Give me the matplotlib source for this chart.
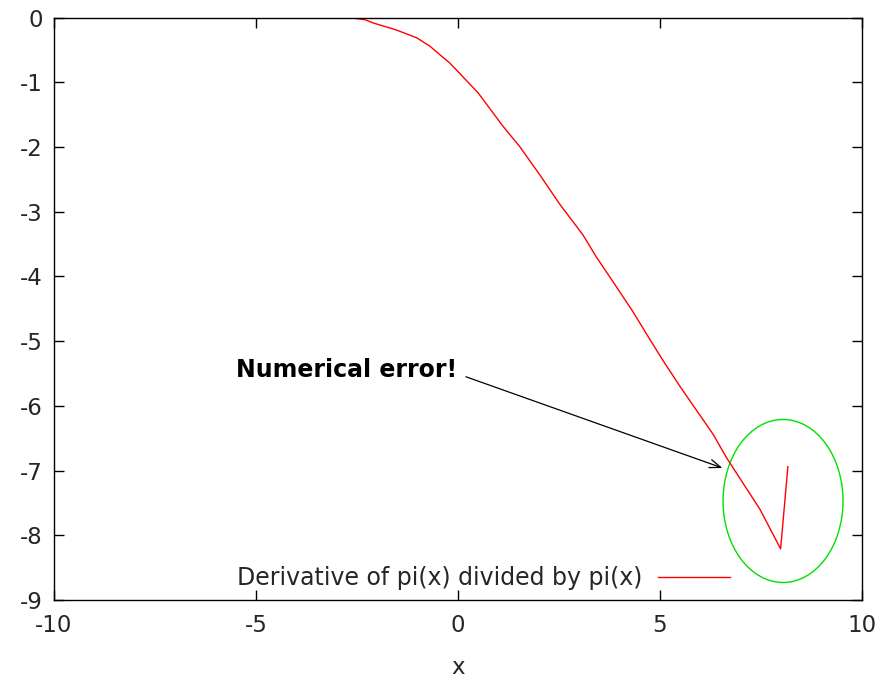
import matplotlib.pyplot as plt
from matplotlib.patches import Ellipse

plt.rcParams['axes.unicode_minus'] = False
plt.rcParams['font.family'] = ['DejaVu Sans']

# values (x, d/dx pi(x) / pi(x))
x_vals = [-2.67, -2.30, -2.10, -1.52, -1.02, -0.69, -0.45, -0.20, 0.50, 1.12,
          1.53, 2.03, 2.52, 3.10, 3.43, 3.84, 4.34, 4.75, 5.08, 5.50,
          5.91, 6.32, 6.65, 7.48, 7.99, 8.17]
y_vals = [0.0, -0.03, -0.08, -0.19, -0.31, -0.44, -0.57, -0.70, -1.16, -1.68,
          -1.99, -2.43, -2.88, -3.36, -3.70, -4.08, -4.55, -4.97, -5.30, -5.70,
          -6.07, -6.44, -6.80, -7.60, -8.21, -6.94]

legend_label = "Derivative of pi(x) divided by pi(x)"
note_text = "Numerical error!"
note_xy = (-5.5, -5.45)
arrow_from = (0.2, -5.55)
arrow_to = (6.55, -6.96)
circle_center = (8.05, -7.47)
circle_size = (2.97, 2.52)

txt_color = '#262626'

fig = plt.figure(figsize=(8.83, 6.81), dpi=100)
ax = fig.add_axes([0.061, 0.119, 0.915, 0.855])

ax.plot(x_vals, y_vals, color='red', lw=1.0, label=legend_label)

ax.add_patch(Ellipse(circle_center, circle_size[0], circle_size[1],
                     fill=False, edgecolor='#00e000', lw=1.0))

ax.annotate('', xy=arrow_to, xytext=arrow_from,
            arrowprops=dict(arrowstyle='->,head_length=0.8,head_width=0.3',
                            color='black', lw=0.9, shrinkA=0, shrinkB=0))
ax.text(note_xy[0], note_xy[1], note_text, fontsize=17, fontweight='bold',
        ha='left', va='center', color='black')

ax.set_xlim(-10, 10)
ax.set_ylim(-9, 0)
ax.set_xticks(range(-10, 11, 5))
ax.set_yticks(range(-9, 1))
ax.tick_params(direction='in', top=True, right=True, length=7, width=1,
               labelsize=16.5, pad=8, labelcolor=txt_color)
ax.tick_params(axis='x', pad=10)
for s in ax.spines.values():
    s.set_linewidth(1.0)
ax.set_xlabel('x', fontsize=16.5, labelpad=14, color=txt_color)

leg = ax.legend(loc='center right', bbox_to_anchor=(0.837, 0.038),
                frameon=False, markerfirst=False, fontsize=17,
                handlelength=3.05, handletextpad=0.68, borderpad=0, borderaxespad=0)
for t in leg.get_texts():
    t.set_color(txt_color)

fig.savefig('out.png', dpi=100)
